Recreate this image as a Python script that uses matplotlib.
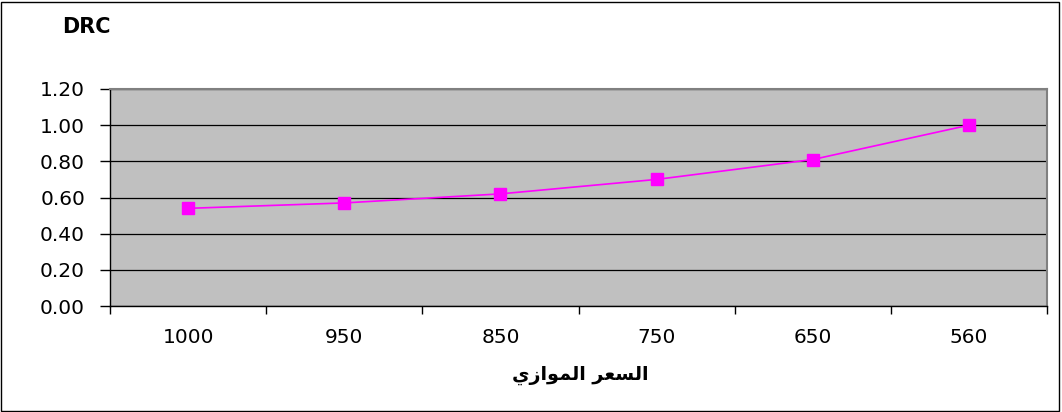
import matplotlib
matplotlib.use("Agg")
import matplotlib.pyplot as plt
from matplotlib.patches import Rectangle
import numpy as np

# ---- data ----
categories = ["1000", "950", "850", "750", "650", "560"]
drc_values = [0.54, 0.57, 0.62, 0.70, 0.81, 1.00]
y_ticks = [0.0, 0.2, 0.4, 0.6, 0.8, 1.0, 1.2]
title_text = "DRC"
xlabel_text = "السعر الموازي"

# ---- minimal Arabic shaping (matplotlib has no complex text layout) ----
FORMS = {  # isolated, final, initial, medial
    "ا": ("\uFE8D", "\uFE8E", None, None),
    "ل": ("\uFEDD", "\uFEDE", "\uFEDF", "\uFEE0"),
    "س": ("\uFEB1", "\uFEB2", "\uFEB3", "\uFEB4"),
    "ع": ("\uFEC9", "\uFECA", "\uFECB", "\uFECC"),
    "ر": ("\uFEAD", "\uFEAE", None, None),
    "م": ("\uFEE1", "\uFEE2", "\uFEE3", "\uFEE4"),
    "و": ("\uFEED", "\uFEEE", None, None),
    "ز": ("\uFEAF", "\uFEB0", None, None),
    "ي": ("\uFEF1", "\uFEF2", "\uFEF3", "\uFEF4"),
}


def shape_arabic(s):
    out = []
    for i, ch in enumerate(s):
        if ch not in FORMS:
            out.append(ch)
            continue
        f = FORMS[ch]
        prev = s[i - 1] if i > 0 else None
        nxt = s[i + 1] if i + 1 < len(s) else None
        pc = prev in FORMS and FORMS[prev][2] is not None
        nc = nxt in FORMS and f[2] is not None
        if pc and nc:
            out.append(f[3])
        elif pc:
            out.append(f[1])
        elif nc:
            out.append(f[2])
        else:
            out.append(f[0])
    return "".join(reversed(out))


TICK_FONT = "DejaVu Sans"
TICK_SIZE = 14.5

W, H = 1062, 412
fig = plt.figure(figsize=(W / 100, H / 100), dpi=100)
fig.patch.set_facecolor("white")

left, right, top, bottom = 110, 1047, 89, 306
ax = fig.add_axes([left / W, 1 - bottom / H, (right - left) / W, (bottom - top) / H])
ax.set_facecolor("#C0C0C0")

x = np.arange(len(categories))
ax.set_xlim(-0.5, len(categories) - 0.5)
ax.set_ylim(0, 1.2)

# grid lines
ax.set_yticks(y_ticks)
ax.set_yticklabels([f"{v:.2f}" for v in y_ticks], fontsize=TICK_SIZE, family=TICK_FONT)
ax.yaxis.grid(True, color="black", linewidth=0.9)
ax.set_axisbelow(True)

# x ticks at category boundaries, labels at centers
ax.set_xticks(np.arange(-0.5, len(categories), 1.0))
ax.set_xticklabels([])
ax.set_xticks(x, minor=True)
ax.set_xticklabels(categories, minor=True, fontsize=TICK_SIZE, family=TICK_FONT)
ax.tick_params(axis="x", which="major", length=6, width=1, color="black", direction="out")
ax.tick_params(axis="x", which="minor", length=0, pad=16)
ax.tick_params(axis="y", length=7, width=1, color="black", direction="out", pad=11)

for s in ["left", "bottom"]:
    ax.spines[s].set_color("black")
    ax.spines[s].set_linewidth(1)
for s in ["top", "right"]:
    ax.spines[s].set_color("#808080")
    ax.spines[s].set_linewidth(1.5)

ax.plot(x, drc_values, color="#FF00FF", linewidth=1.2, marker="s",
        markersize=9, markerfacecolor="#FF00FF", markeredgecolor="#FF00FF", zorder=3)

fig.text(86 / W, 1 - 27 / H, title_text, fontsize=15, fontweight="bold",
         family="DejaVu Sans", ha="center", va="center")
fig.text(580 / W, 1 - 375 / H, shape_arabic(xlabel_text), fontsize=13.8, fontweight="bold",
         family="DejaVu Sans", ha="center", va="center")

fig.add_artist(Rectangle((1 / W, 1 / H), (W - 4) / W, (H - 3) / H, transform=fig.transFigure,
                         fill=False, edgecolor="black", linewidth=1))

fig.savefig("out.png", dpi=100)
